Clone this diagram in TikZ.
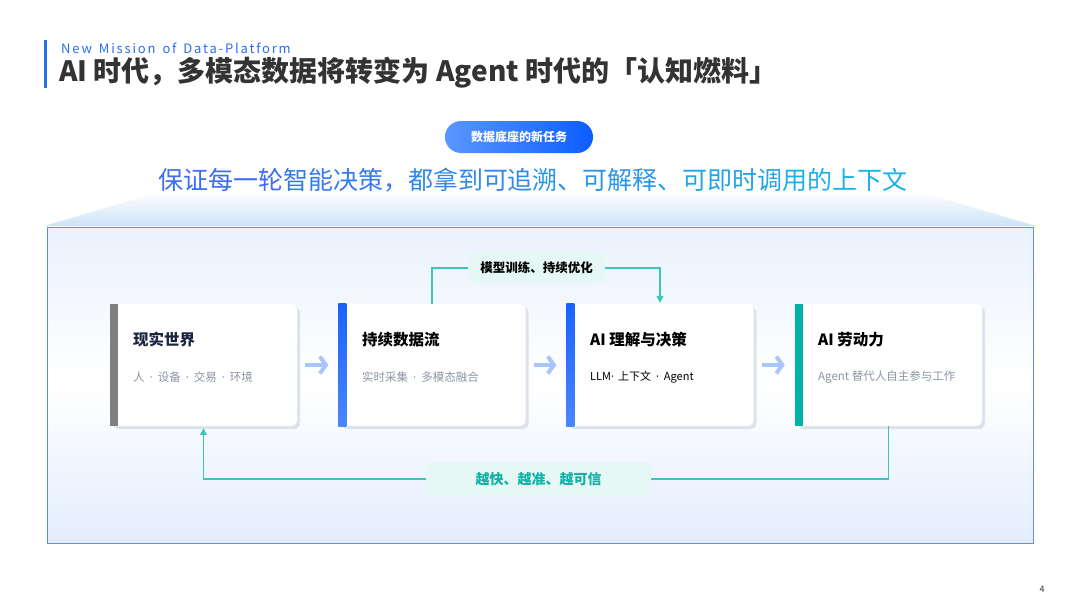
\documentclass[tikz,border=0pt]{standalone}
\usepackage{fontspec}
\setmainfont{Noto Sans CJK SC}
\newfontfamily\latinf{Noto Sans}
\newcommand\md{\hspace{5pt}{\latinf ·}\hspace{5pt}}
\newcommand\wsp{\hspace{7pt}}
\usetikzlibrary{arrows.meta,shadows}
\definecolor{titlec}{HTML}{333333}
\definecolor{mblue}{HTML}{2A6EF0}
\definecolor{panelb}{HTML}{5B8FF0}
\definecolor{panelt}{HTML}{EAF2FD}
\definecolor{panelbot}{HTML}{E3EDFD}
\definecolor{trapc}{HTML}{CDE2F7}
\definecolor{shadowc}{HTML}{DCE3EC}
\definecolor{grayacc}{HTML}{7F7F7F}
\definecolor{blueacc}{HTML}{1A62FF}
\definecolor{blueacc2}{HTML}{4A86FF}
\definecolor{tealacc}{HTML}{00B3A6}
\definecolor{subg}{HTML}{8B95A5}
\definecolor{navy}{HTML}{1B2540}
\definecolor{chevc}{HTML}{A9C5FC}
\definecolor{loopc}{HTML}{3CC6BA}
\definecolor{mint}{HTML}{E5F8F5}
\definecolor{tealtxt}{HTML}{12B0A5}
\definecolor{pillL}{HTML}{5B97FF}
\definecolor{pillR}{HTML}{0B5DFF}
\definecolor{ga}{HTML}{3D6CF2}
\definecolor{gb}{HTML}{1CB2E6}
\begin{document}
\begin{tikzpicture}[x=1pt,y=-1pt,
  card/.style={minimum width=187pt,minimum height=122pt,inner sep=0pt,rounded corners=6pt,fill=white,
    drop shadow={shadow xshift=3pt,shadow yshift=-3pt,fill=shadowc,opacity=1}},
  ctitle/.style={anchor=west,inner sep=0pt,font=\fontsize{15.5}{18}\selectfont\bfseries},
  csub/.style={anchor=west,inner sep=0pt,font=\fontsize{11.5}{13}\selectfont,text=subg},
  chev/.style={draw=chevc,line width=4pt,-{Straight Barb[length=6pt,width=17pt]},shorten <=8pt,shorten >=10pt},
  loopline/.style={draw=loopc,line width=1.2pt},
  looparrow/.style={loopline,-{Triangle[length=7pt,width=7pt]}},
  lbl/.style={fill=mint,rounded corners=8pt,inner sep=0pt}
]
\useasboundingbox (0,0) rectangle (1080,608);
\fill[white] (0,0) rectangle (1080,608);

% header
\fill[mblue] (44,40) rectangle (47,88);
\node[anchor=west,inner sep=0pt,text=mblue,font=\fontsize{13}{15}\selectfont\addfontfeatures{LetterSpace=14}] (nm) at (61,48) {New\wsp Mission\wsp of\wsp Data-Platform};
\node[anchor=west,inner sep=0pt,text=titlec,font=\fontsize{28}{32}\selectfont\bfseries] (tt) at (59,73) {AI 时代，多模态数据将转变为 Agent 时代的「认知燃料」};

% pill
\node[minimum width=148pt,minimum height=32pt,rounded corners=16pt,left color=pillL,right color=pillR,inner sep=0pt,text=white,font=\fontsize{12}{14}\selectfont\bfseries] (pill) at (519,137) {数据底座的新任务};

% trapezoid
\shade[top color=white,bottom color=trapc] (44,226) -- (160,192) -- (920,192) -- (1036,226) -- cycle;

% subtitle
\node[inner sep=0pt,font=\fontsize{25}{29}\selectfont] (sub) at (533,180) {{\color{ga}保证每一轮}{\color{ga!80!gb}智能决策，}{\color{ga!60!gb}都拿到可追}{\color{ga!40!gb}溯、可解释}{\color{ga!20!gb}、可即时调}{\color{gb}用的上下文}};

% panel
\shade[top color=panelt,bottom color=panelbot,middle color=white] (47,227) rectangle (1033,543);
\draw[panelb,line width=1pt] (47,227) rectangle (1033,543);

% cards
\node[card] (c1) at (203.5,365) {};
\node[card] (c2) at (432,365) {};
\node[card] (c3) at (660,365) {};
\node[card] (c4) at (888.5,365) {};
\fill[grayacc] (c1.north west) rectangle ([xshift=8pt]c1.south west);
\shade[top color=blueacc,bottom color=blueacc2] (c2.north west) rectangle ([xshift=8pt]c2.south west);
\shade[top color=blueacc,bottom color=blueacc2] (c3.north west) rectangle ([xshift=8pt]c3.south west);
\fill[tealacc] (c4.north west) rectangle ([xshift=8pt]c4.south west);

\node[ctitle,text=navy] (t1) at (133,340) {现实世界};
\node[csub] (s1) at (133,377) {人\md 设备\md 交易\md 环境};
\node[ctitle,text=black] (t2) at (362,340) {持续数据流};
\node[csub] (s2) at (362,377) {实时采集\md 多模态融合};
\node[ctitle,text=black] (t3) at (590,340) {AI 理解与决策};
\node[csub,text=black,font=\fontsize{11}{13}\selectfont] (s3) at (590,377) {LLM{\latinf ·}\hspace{4pt}上下文\md Agent};
\node[ctitle,text=black] (t4) at (818,340) {AI 劳动力};
\node[csub] (s4) at (818,377) {Agent 替代人自主参与工作};

% chevrons
\draw[chev] (c1) -- (c2);
\draw[chev] (c2) -- (c3);
\draw[chev] (c3) -- (c4);

% top loop
\node[lbl,minimum width=137pt,minimum height=31pt,font=\fontsize{12.5}{15}\selectfont\bfseries,text=black] (l1) at (536.5,268) {模型训练、持续优化};
\draw[loopline] (c2.north) |- (l1.west);
\draw[looparrow,shorten >=1pt] (l1.east) -| (c3.north);

% bottom loop
\node[lbl,minimum width=225pt,minimum height=33pt,font=\fontsize{14}{17}\selectfont\bfseries,text=tealtxt] (l2) at (538.5,479) {越快、越准、越可信};
\draw[loopline] (c4.south) |- (l2.east);
\draw[looparrow,shorten >=2pt] (l2.west) -| (c1.south);

% page number
\node[inner sep=0pt,text=titlec,font=\fontsize{9}{11}\selectfont] (pg) at (1042,589) {4};
\end{tikzpicture}
\end{document}
